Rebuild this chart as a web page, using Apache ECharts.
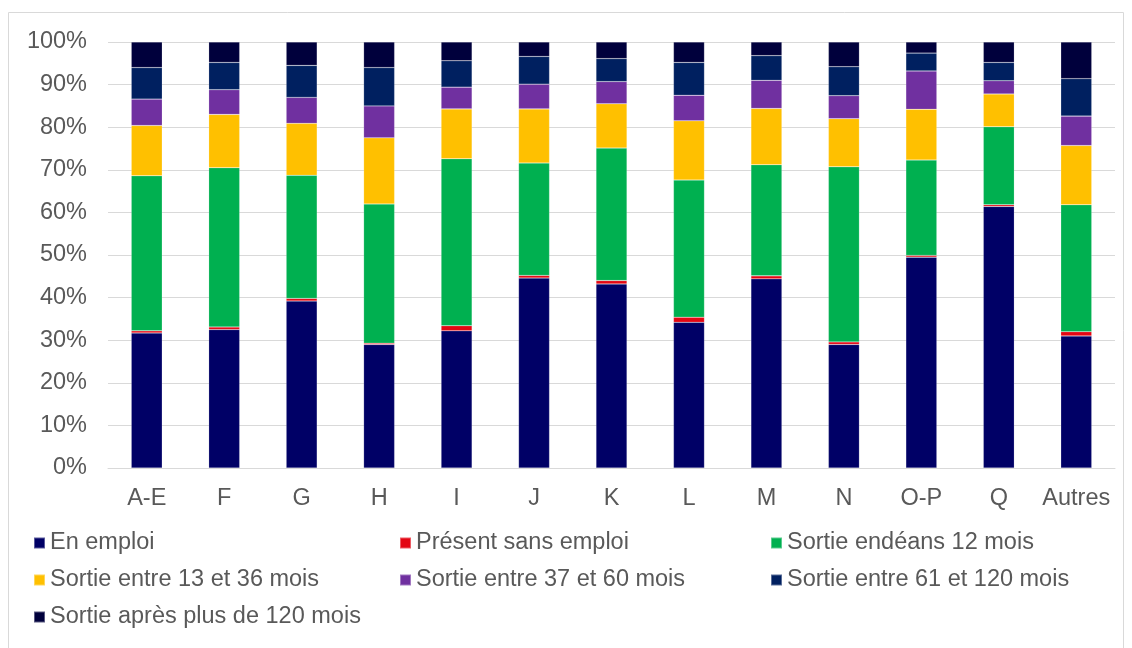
<!DOCTYPE html>
<html><head><meta charset="utf-8">
<script src="https://cdn.jsdelivr.net/npm/echarts@6/dist/echarts.min.js"></script>
<style>html,body{margin:0;padding:0;background:#fff}#c{width:1132px;height:648px}</style>
</head><body><div id="c"></div>
<script>
const categories = ['A-E','F','G','H','I','J','K','L','M','N','O-P','Q','Autres'];
const yTicks = ['0%','10%','20%','30%','40%','50%','60%','70%','80%','90%','100%'];
const seriesNames = ['En emploi','Présent sans emploi','Sortie endéans 12 mois','Sortie entre 13 et 36 mois','Sortie entre 37 et 60 mois','Sortie entre 61 et 120 mois','Sortie après plus de 120 mois'];
const enEmploi   = [31.7,32.5,39.2,29.0,32.2,44.6,43.2,34.2,44.4,29.0,49.5,61.4,31.0];
const presentSE  = [0.5,0.6,0.6,0.3,1.2,0.6,0.8,1.2,0.7,0.6,0.4,0.4,1.0];
const sortie12   = [36.4,37.4,28.9,32.7,39.2,26.4,31.1,32.2,26.1,41.1,22.4,18.3,29.8];
const sortie1336 = [11.8,12.5,12.2,15.5,11.7,12.7,10.4,13.9,13.2,11.3,11.9,7.7,13.9];
const sortie3760 = [6.2,5.8,6.1,7.5,5.1,5.8,5.2,6.0,6.6,5.4,9.0,3.1,6.9];
const sortie61120= [7.4,6.4,7.5,9.0,6.2,6.5,5.4,7.7,5.8,6.8,4.2,4.3,8.8];
const sortie120p = [6.0,4.8,5.5,6.0,4.4,3.4,3.9,4.8,3.2,5.8,2.6,4.8,8.6];

const seriesData = [enEmploi,presentSE,sortie12,sortie1336,sortie3760,sortie61120,sortie120p];
const colors = ['#000066','#E30613','#00B050','#FFC000','#7030A0','#002060','#00003C'];
const font = 'Liberation Sans, Arial, sans-serif';
const txt = '#595959';

const chart = echarts.init(document.getElementById('c'), null, {renderer:'canvas'});
const legendBase = {
  orient:'vertical', icon:'rect', itemWidth:11, itemHeight:11, itemGap:13, padding:0,
  textStyle:{color:txt, fontSize:23.5, fontFamily:font, lineHeight:24}, selectedMode:false
};
chart.setOption({
  animation:false,
  color: colors,
  graphic:[{type:'rect', shape:{x:8.5,y:12.5,width:1115,height:660}, style:{fill:'none', stroke:'#d9d9d9', lineWidth:1}, silent:true}],
  grid:{left:108, right:17, top:42, bottom:180, containLabel:false},
  legend:[
    Object.assign({}, legendBase, {left:33, top:531, data:[seriesNames[0],seriesNames[3],seriesNames[6]]}),
    Object.assign({}, legendBase, {left:399, top:531, data:[seriesNames[1],seriesNames[4]]}),
    Object.assign({}, legendBase, {left:770, top:531, data:[seriesNames[2],seriesNames[5]]})
  ],
  xAxis:{
    type:'category', data:categories,
    axisLine:{show:true, lineStyle:{color:'#d9d9d9', width:1}},
    axisTick:{show:false},
    axisLabel:{color:txt, fontSize:23.5, fontFamily:font, margin:19, interval:0}
  },
  yAxis:{
    type:'value', min:0, max:100, interval:10,
    axisLine:{show:false}, axisTick:{show:false},
    splitLine:{lineStyle:{color:'#d9d9d9', width:1}},
    axisLabel:{color:txt, fontSize:23.5, fontFamily:font, margin:21,
      formatter:function(v){ return yTicks[Math.round(v/10)]; }}
  },
  series: seriesNames.map(function(n,i){
    return {name:n, type:'bar', stack:'total', data:seriesData[i], barCategoryGap:'60%',
      itemStyle:{color:colors[i], borderColor:'rgba(255,255,255,0.35)', borderWidth:0.5}};
  })
});
</script></body></html>
